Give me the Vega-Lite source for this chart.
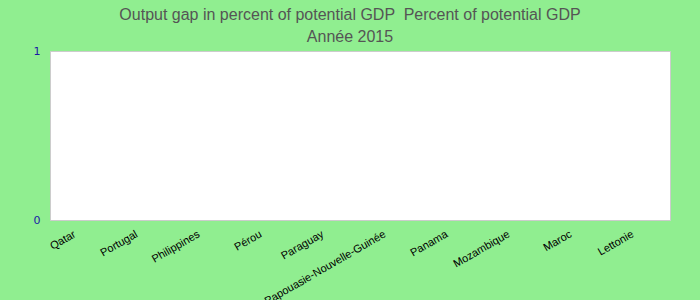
{
  "$schema": "https://vega.github.io/schema/vega-lite/v6.json",
  "autosize": {"type": "none"},
  "width": 620,
  "height": 169,
  "padding": {"left": 50, "top": 51, "right": 30, "bottom": 80},
  "background": "#90EE90",
  "title": {
    "text": ["Output gap in percent of potential GDP \u00a0Percent of potential GDP", "Année 2015"],
    "font": "Liberation Sans",
    "fontSize": 16,
    "fontWeight": "normal",
    "color": "#555555",
    "anchor": "middle",
    "dx": -10,
    "offset": 0,
    "lineHeight": 22
  },
  "data": {
    "values": [
      {"pays": "Qatar", "valeur": 0},
      {"pays": "Portugal", "valeur": 0},
      {"pays": "Philippines", "valeur": 0},
      {"pays": "Pérou", "valeur": 0},
      {"pays": "Paraguay", "valeur": 0},
      {"pays": "Papouasie-Nouvelle-Guinée", "valeur": 0},
      {"pays": "Panama", "valeur": 0},
      {"pays": "Mozambique", "valeur": 0},
      {"pays": "Maroc", "valeur": 0},
      {"pays": "Lettonie", "valeur": 0}
    ]
  },
  "mark": {"type": "bar", "color": "#4472C4"},
  "encoding": {
    "x": {
      "field": "pays",
      "type": "nominal",
      "sort": null,
      "title": null,
      "axis": {
        "labelAngle": -30,
        "labelFont": "Liberation Sans",
        "labelFontSize": 11,
        "labelColor": "#000000",
        "labelPadding": 8,
        "labelOffset": -9,
        "ticks": false,
        "domain": false,
        "labelOverlap": false
      }
    },
    "y": {
      "field": "valeur",
      "type": "quantitative",
      "title": null,
      "scale": {"domain": [0, 1]},
      "axis": {
        "values": [0, 1],
        "format": "d",
        "labelFont": "DejaVu Sans",
        "labelFontSize": 11,
        "labelColor": "#1a1aa6",
        "labelPadding": 10,
        "ticks": false,
        "domain": false,
        "grid": false
      }
    }
  },
  "config": {
    "view": {"stroke": "#cccccc", "fill": "#ffffff"}
  }
}
